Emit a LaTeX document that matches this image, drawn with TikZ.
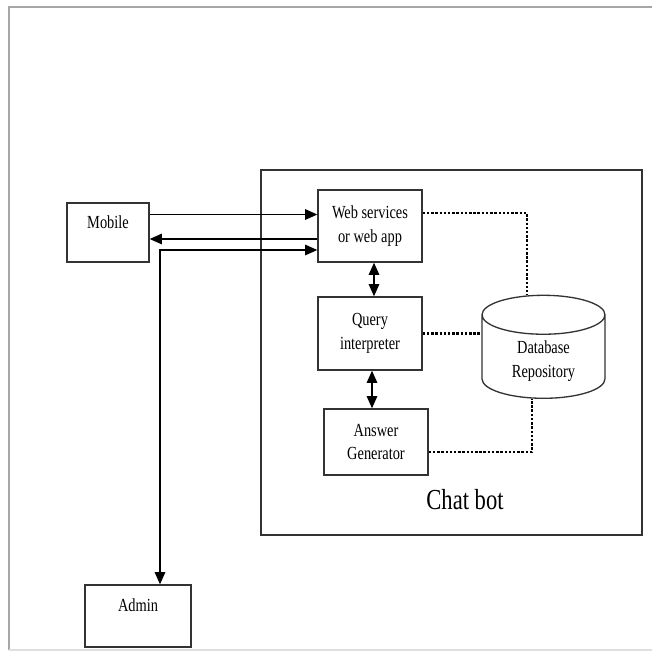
\documentclass[tikz,border=0pt]{standalone}
\usepackage{fontspec}
\setmainfont{Liberation Serif}[FakeStretch=0.78]
\usepackage{tikz}
\usetikzlibrary{shapes.geometric, arrows.meta, positioning}

\begin{document}
\begin{tikzpicture}[
  font=\fontsize{10.5}{13.5}\selectfont,
  % plain boxes for users and modules
  block/.style={rectangle, draw=black!80, line width=0.75pt, align=center, inner sep=2pt},
  % data store = upright cylinder
  store/.style={cylinder, shape border rotate=90, aspect=0.52, draw=black!80, line width=0.75pt, align=center},
  arrow/.style={line width=0.85pt, -{Triangle[length=7pt, width=6pt]}},
  dblarrow/.style={line width=0.85pt, {Triangle[length=7pt, width=6pt]}-{Triangle[length=7pt, width=6pt]}},
  dotline/.style={line width=1.4pt, densely dotted}
]
\useasboundingbox (0,0) rectangle (13.04,-13.12);
\draw[gray!70, line width=0.8pt] (0.18,-13.0) -- (0.18,-0.14) -- (13.04,-0.14);
\draw[gray!25, line width=0.8pt] (0.18,-13.0) -- (13.04,-13.0);

% ---- Chat bot frame ----
\node[rectangle, draw=black!80, line width=0.75pt, minimum width=7.62cm, minimum height=7.30cm] (chatbot) at (9.03,-7.05) {};
\node[font=\fontsize{16.5}{18}\selectfont] (chatlabel) at (9.30,-10.0) {Chat bot};

% ---- Modules (inside the chat bot) ----
\node[block, minimum width=2.08cm, minimum height=1.44cm] (web) at (7.40,-4.52) {Web services\\or web app};
\node[block, minimum width=2.08cm, minimum height=1.46cm] (query) at (7.40,-6.67) {Query\\interpreter};
\node[block, minimum width=2.08cm, minimum height=1.32cm] (answer) at (7.52,-8.84) {Answer\\Generator};
\node[store, minimum width=2.46cm, minimum height=1.88cm] (db) at (10.87,-7.22) {Database\\Repository};

% ---- Users (outside) ----
\node[block, minimum width=1.64cm, minimum height=1.18cm, text depth=0.4cm] (mobile) at (2.16,-4.65) {Mobile};
\node[block, minimum width=2.12cm, minimum height=1.24cm, text depth=0.45cm] (admin) at (2.76,-12.32) {Admin};

% ---- Request / response flows ----
\draw[arrow] ([yshift=0.36cm]mobile.east) -- ([yshift=0.36cm]mobile.east -| web.west);
\draw[arrow] ([yshift=-0.26cm]web.west) -- ([yshift=-0.26cm]web.west -| mobile.east);
\draw[dblarrow] ([yshift=-0.48cm]web.west) -| ([xshift=0.44cm]admin.north);
\draw[dblarrow] ([xshift=0.08cm]web.south) -- ([xshift=0.08cm]web.south |- query.north);
\draw[dblarrow] ([xshift=0.04cm]query.south) -- ([xshift=0.04cm]query.south |- answer.north);

% ---- Links to the repository ----
\draw[dotline] ([yshift=0.26cm]web.east) -| ([xshift=-0.33cm]db.north);
\draw[dotline] (query.east) -- (query.east -| db.west);
\draw[dotline] ([yshift=-0.2cm]answer.east) -| ([xshift=-0.23cm]db.south);

\end{tikzpicture}
\end{document}
